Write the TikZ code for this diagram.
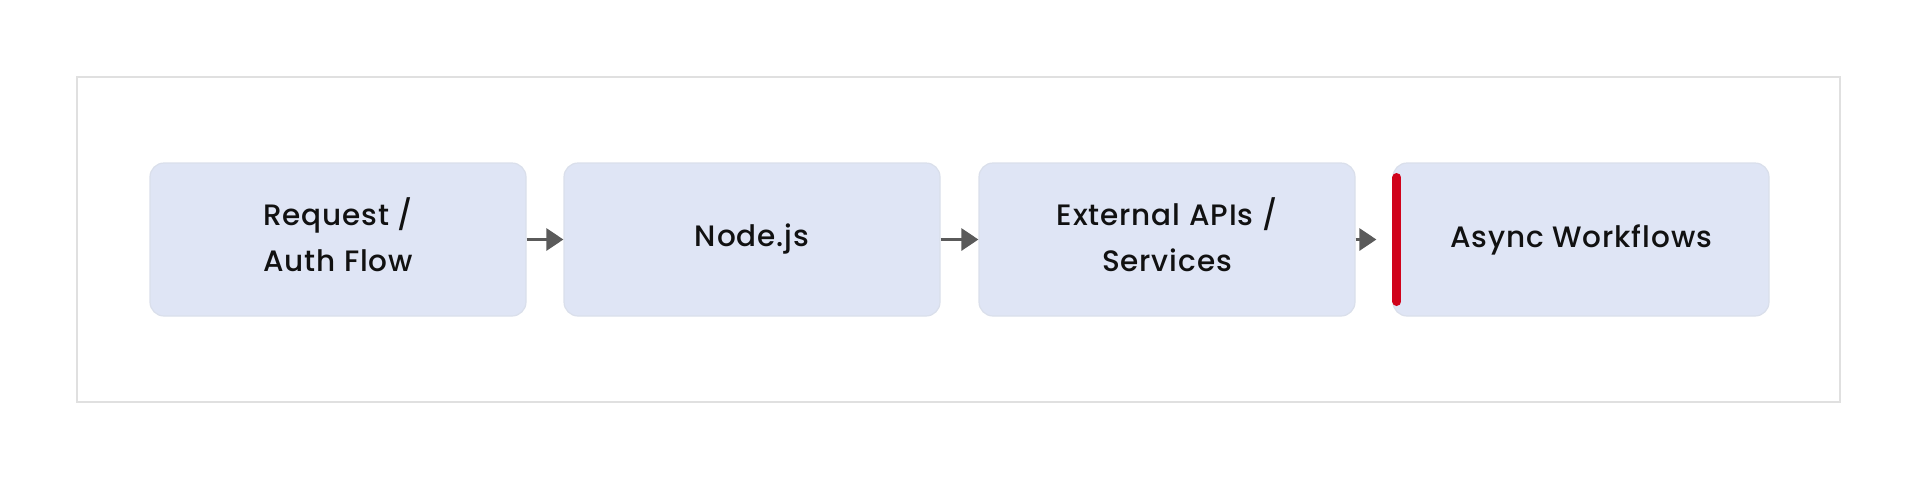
\documentclass[tikz,border=0pt]{standalone}
\usepackage{fontspec}
\setmainfont{Poppins Medium}[LetterSpace=3]
\usetikzlibrary{arrows.meta}
\definecolor{frameC}{HTML}{E0E0E0}
\definecolor{boxFill}{HTML}{DFE5F5}
\definecolor{boxLine}{HTML}{DADFEB}
\definecolor{arrC}{HTML}{5A5A5A}
\definecolor{barC}{HTML}{D0021B}
\definecolor{txtC}{HTML}{111111}
\begin{document}
\begin{tikzpicture}[x=1pt,y=-1pt,
  stepbox/.style={draw=boxLine, line width=1.2pt, fill=boxFill, rounded corners=14pt,
    minimum width=376pt, minimum height=153pt, inner sep=0pt, align=center,
    text=txtC, font=\fontsize{29.5}{46}\selectfont},
  twoline/.style={text depth=10pt},
  flow/.style={draw=arrC, line width=3pt, -{Triangle[length=17pt,width=22pt]}}]
\useasboundingbox (0,0) rectangle (1920,480);
\draw[frameC, line width=2pt] (77,77) rectangle (1840,402);
\node[stepbox, twoline] (b1) at (338,239.5) {Request /\\Auth Flow};
\node[stepbox] (b2) at (752,239.5) {Node.js};
\node[stepbox, twoline] (b3) at (1167,239.5) {External APIs /\\Services};
\node[stepbox] (b4) at (1581,239.5) {Async Workflows};
\draw[flow] (b1) -- (b2);
\draw[flow] (b2) -- (b3);
\draw[flow, shorten >=16pt] (b3) -- (b4);
\draw[barC, line width=9pt, line cap=round] ([xshift=4.5pt,yshift=62pt]b4.west) -- ([xshift=4.5pt,yshift=-62pt]b4.west);
\end{tikzpicture}
\end{document}
